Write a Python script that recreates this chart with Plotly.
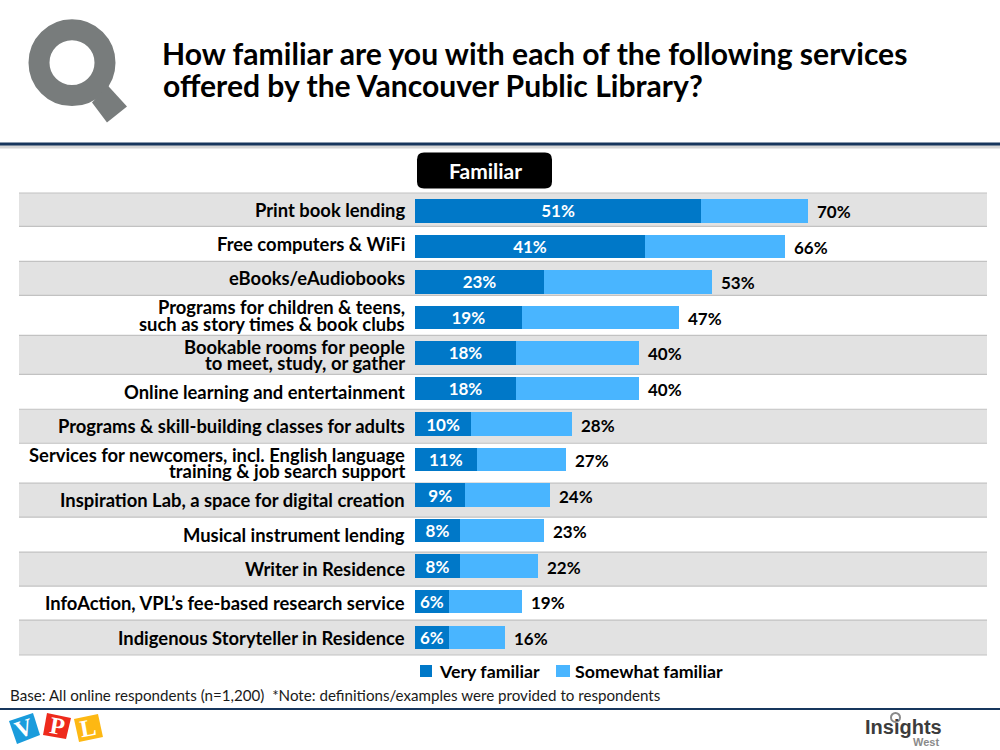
import plotly.graph_objects as go

FONT = "Lato"
DARK_BLUE = "#0078c8"
LIGHT_BLUE = "#49b5ff"

# one list per row, each entry is a printed line of the label
label_lines = [
    ["Print book lending"],
    ["Free computers & WiFi"],
    ["eBooks/eAudiobooks"],
    ["Programs for children & teens,", "such as story times & book clubs"],
    ["Bookable rooms for people", "to meet, study, or gather"],
    ["Online learning and entertainment"],
    ["Programs & skill-building classes for adults"],
    ["Services for newcomers, incl. English language", "training & job search support"],
    ["Inspiration Lab, a space for digital creation"],
    ["Musical instrument lending"],
    ["Writer in Residence"],
    ["InfoAction, VPL\u2019s fee-based research service"],
    ["Indigenous Storyteller in Residence"],
]
very_familiar = [51, 41, 23, 19, 18, 18, 10, 11, 9, 8, 8, 6, 6]
somewhat_familiar = [19, 25, 30, 28, 22, 22, 18, 16, 15, 15, 14, 13, 10]
familiar_total = [70, 66, 53, 47, 40, 40, 28, 27, 24, 23, 22, 19, 16]

title_lines = ["How familiar are you with each of the following services",
               "offered by the Vancouver Public Library?"]

categories = [" ".join(l) for l in label_lines]

# page layout in pixels
W, H = 1000, 750
L, R, T, B = 415, 987, 192.5, 655
# the table behind the bars has taller rows where the label wraps
band_edges = [192.5, 226, 261, 295, 335, 374, 409, 443, 483, 517, 552, 586, 620, 655]


def px(x):
    return (x - L) / (R - L)


def py(y):
    return (B - y) / (B - T)


def poly(points, color):
    path = "M" + " L".join(f"{px(x):.4f},{py(y):.4f}" for x, y in points) + " Z"
    return dict(type="path", xref="paper", yref="paper", path=path, fillcolor=color,
                line=dict(width=0), layer="above")


def box(x0, y0, x1, y1, color, layer="above"):
    return dict(type="rect", xref="paper", yref="paper", x0=px(x0), x1=px(x1), y0=py(y1), y1=py(y0),
                fillcolor=color, line=dict(width=0), layer=layer)


fig = go.Figure()
fig.add_bar(y=categories, x=very_familiar, name="Very familiar", orientation="h",
            marker_color=DARK_BLUE, marker_line_width=0, text=[f"{v}%" for v in very_familiar],
            textposition="inside", insidetextanchor="middle", textangle=0, constraintext="none",
            textfont=dict(family=FONT, size=17, color="white", weight="bold"),
            hoverinfo="skip")
fig.add_bar(y=categories, x=somewhat_familiar, name="Somewhat familiar", orientation="h",
            marker_color=LIGHT_BLUE, marker_line_width=0, hoverinfo="skip")

shapes = []
# grey bands on alternate rows, hairlines between all of them
for i in range(len(categories)):
    if i % 2 == 0:
        shapes.append(box(19, band_edges[i], R, band_edges[i + 1], "#e2e2e2", layer="below"))
for e in band_edges:
    shapes.append(box(19, e - 0.6, R, e + 0.6, "#c2c2c2", layer="below"))

# header and footer rules
shapes.append(box(0, 144, W, 148, "#d6d6d6"))
shapes.append(box(0, 142, W, 145, "#17365d"))
shapes.append(box(0, 708, W, 710, "#17365d"))

# magnifier logo
shapes.append(dict(type="circle", xref="paper", yref="paper", x0=px(39), x1=px(105), y0=py(95), y1=py(29),
                   fillcolor="rgba(0,0,0,0)", line=dict(color="#787c7c", width=21)))
shapes.append(poly([(108, 85), (127, 106), (107, 122), (92, 102)], "#787c7c"))

# "Familiar" box
bx0, bx1, by0, by1, rd = 417, 552, 152, 188, 7
shapes.append(dict(type="path", xref="paper", yref="paper", fillcolor="black", line=dict(width=0),
                   path=(f"M{px(bx0 + rd)},{py(by0)} L{px(bx1 - rd)},{py(by0)} "
                         f"Q{px(bx1)},{py(by0)} {px(bx1)},{py(by0 + rd)} "
                         f"L{px(bx1)},{py(by1 - rd)} Q{px(bx1)},{py(by1)} {px(bx1 - rd)},{py(by1)} "
                         f"L{px(bx0 + rd)},{py(by1)} Q{px(bx0)},{py(by1)} {px(bx0)},{py(by1 - rd)} "
                         f"L{px(bx0)},{py(by0 + rd)} Q{px(bx0)},{py(by0)} {px(bx0 + rd)},{py(by0)} Z")))

# legend swatches
shapes.append(box(420, 665, 432, 677, DARK_BLUE))
shapes.append(box(556, 665, 570, 677, LIGHT_BLUE))

# VPL logo tiles
shapes.append(poly([(9, 721), (33, 713), (40, 735), (17, 744)], "#1a9cdc"))
shapes.append(poly([(47, 713), (71, 718), (66, 739), (43, 735)], "#ee2a1c"))
shapes.append(poly([(74, 719), (98, 714), (103, 737), (79, 742)], "#fdb813"))

# small mark above the Insights West wordmark
shapes.append(dict(type="circle", xref="paper", yref="paper", x0=px(891), x1=px(900), y0=py(722), y1=py(713),
                   fillcolor="rgba(0,0,0,0)", line=dict(color="#8a8a8a", width=2)))


def note(x, y, text, size, color="black", bold=True, anchor="left", family=FONT, angle=0):
    return dict(xref="paper", yref="paper", x=px(x), y=py(y), text=text, showarrow=False,
                xanchor=anchor, yanchor="middle", textangle=angle,
                font=dict(family=family, size=size, color=color, weight="bold" if bold else "normal"))


annotations = [
    note(161, 84, title_lines[1], 30.1),
    note(485, 169.5, "Familiar", 21, "white", anchor="center"),
    note(436.5, 671, "Very familiar", 17.8),
    note(573, 671, "Somewhat familiar", 17.8),
    note(8, 695, "Base: All online respondents (n=1,200)  *Note: definitions/examples were provided to respondents", 15.15, "#1a1a1a", bold=False),
    note(24, 728, "V", 24, "white", anchor="center", family="Liberation Serif", angle=-18),
    note(57, 726, "P", 24, "white", anchor="center", family="Liberation Serif", angle=10),
    note(88, 728, "L", 24, "white", anchor="center", family="Liberation Serif", angle=-10),
    note(903, 727, "Insights", 20, "#3c3c3c", anchor="center", family="Liberation Sans"),
    note(926, 742, "West", 11, "#8a8a8a", anchor="center", family="Liberation Sans"),
]

# row labels follow the table rows, each printed line on its own so the leading stays tight
for i, lines in enumerate(label_lines):
    mid = (band_edges[i] + band_edges[i + 1]) / 2
    for j, line in enumerate(lines):
        annotations.append(note(407, mid + 8.25 * (2 * j - len(lines) + 1), line, 18.4, anchor="right"))

# totals sit just past the end of each stacked bar
for cat, total in zip(categories, familiar_total):
    annotations.append(dict(x=total, y=cat, text=f"{total}%", showarrow=False, xanchor="left", yanchor="middle",
                            xshift=7, yshift=-1,
                            font=dict(family=FONT, size=17, color="black", weight="bold")))

fig.update_layout(
    width=W, height=H, barmode="stack", bargap=0.34, plot_bgcolor="rgba(0,0,0,0)", paper_bgcolor="white",
    margin=dict(l=L, r=W - R, t=T, b=H - B, autoexpand=False), showlegend=False,
    title=dict(text=title_lines[0], x=162 / W, xanchor="left", y=1 - 54 / H, yanchor="middle",
               font=dict(family=FONT, size=30.1, color="black", weight="bold")),
    xaxis=dict(range=[0, (R - L) / 5.61], visible=False, fixedrange=True),
    yaxis=dict(categoryorder="array", categoryarray=categories, range=[12.5, -0.5],
               showticklabels=False, showgrid=False, zeroline=False, ticks="", fixedrange=True),
    shapes=shapes, annotations=annotations,
)

# drop the browser's default page margin so the figure starts at the window corner
fig.write_html("out.html", config=dict(displayModeBar=False),
               post_script="document.body.style.margin='0';")
